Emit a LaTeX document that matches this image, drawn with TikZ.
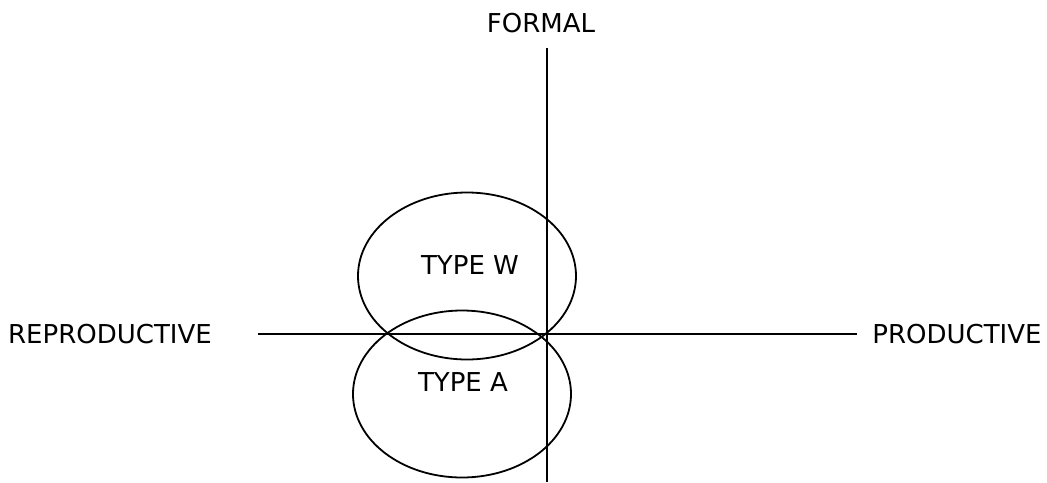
\documentclass[tikz,border=0pt]{standalone}
\usepackage{fontspec}
\setmainfont{DejaVu Sans}
\usetikzlibrary{shapes.geometric}
\begin{document}
\begin{tikzpicture}[x=1pt,y=-1pt,
  axis/.style={line width=1.8pt},
  zone/.style={draw,ellipse,line width=1.8pt,minimum width=218pt,minimum height=167pt,inner sep=0pt},
  lbl/.style={font=\fontsize{26}{30}\selectfont,inner sep=0pt}]
\useasboundingbox (0,0) rectangle (1047,482);
% axes
\coordinate (top) at (547,48);
\coordinate (bot) at (547,482);
\coordinate (lft) at (258,334);
\coordinate (rgt) at (857,334);
\draw[axis] (top) -- (bot);
\draw[axis] (lft) -- (rgt);
% zones
\node[zone] (w) at (467,276) {};
\node[zone] (a) at (462,394) {};
% labels
\node[lbl] (formal) at (541,23) {FORMAL};
\node[lbl] (repro) at (110,334) {REPRODUCTIVE};
\node[lbl] (prod) at (957,334) {PRODUCTIVE};
\node[lbl] (tw) at (470,265) {TYPE W};
\node[lbl] (ta) at (463,382) {TYPE A};
\end{tikzpicture}
\end{document}
